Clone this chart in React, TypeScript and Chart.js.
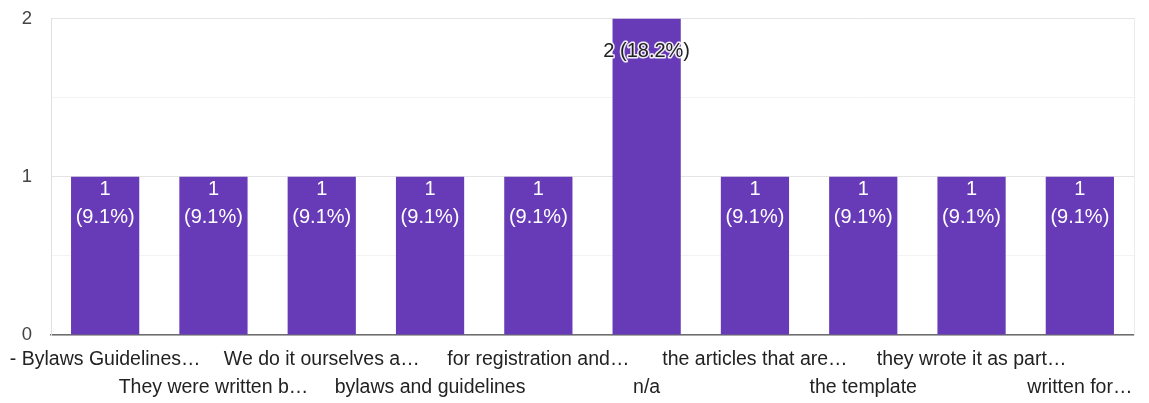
import React, { useEffect, useRef } from "react";
import { Chart, registerables } from "chart.js";

Chart.register(...registerables);

const categories: string[] = [
  "- Bylaws Guidelines…",
  "They were written b…",
  "We do it ourselves a…",
  "bylaws and guidelines",
  "for registration and…",
  "n/a",
  "the articles that are…",
  "the template",
  "they wrote it as part…",
  "written for…",
];

const responses: number[] = [1, 1, 1, 1, 1, 2, 1, 1, 1, 1];

const yTicks: number[] = [0, 1, 2];

const FONT = '"Liberation Sans", Arial, sans-serif';
const BAR_COLOR = "#673ab7";

const barLabelPlugin = {
  id: "barLabels",
  afterDatasetsDraw(chart: any) {
    const ctx: CanvasRenderingContext2D = chart.ctx;
    const meta = chart.getDatasetMeta(0);
    const total = responses.reduce((a, b) => a + b, 0);
    ctx.save();
    ctx.font = `20px ${FONT}`;
    ctx.textAlign = "center";
    ctx.textBaseline = "middle";
    meta.data.forEach((bar: any, i: number) => {
      const v = responses[i];
      const pct = `(${((v / total) * 100).toFixed(1)}%)`;
      const { x, y, width } = bar.getProps(["x", "y", "width"], true);
      const w = ctx.measureText(pct).width;
      if (w + 6 <= width) {
        ctx.fillStyle = "#ffffff";
        ctx.fillText(String(v), x, y + 13);
        ctx.fillText(pct, x, y + 40.5);
      } else {
        const txt = `${v} ${pct}`;
        ctx.lineJoin = "round";
        ctx.lineWidth = 3;
        ctx.strokeStyle = "rgba(255,255,255,0.9)";
        ctx.strokeText(txt, x, y + 33);
        ctx.fillStyle = "#222222";
        ctx.fillText(txt, x, y + 33);
      }
    });
    ctx.restore();
  },
};

export default function App() {
  const canvasRef = useRef<HTMLCanvasElement | null>(null);

  useEffect(() => {
    if (!canvasRef.current) return;
    const tickLabels = categories.map((c, i) => (i % 2 === 0 ? [c, ""] : ["", c]));
    const chart = new Chart(canvasRef.current, {
      type: "bar",
      data: {
        labels: tickLabels,
        datasets: [
          {
            data: responses,
            backgroundColor: BAR_COLOR,
            borderWidth: 0,
            barPercentage: 0.63,
            categoryPercentage: 1,
          },
        ],
      },
      options: {
        animation: false,
        responsive: true,
        maintainAspectRatio: false,
        events: [],
        layout: { padding: { top: 18.5, right: 0, bottom: 0, left: 0 } },
        plugins: {
          legend: { display: false },
          tooltip: { enabled: false },
        },
        scales: {
          x: {
            ticks: {
              autoSkip: false,
              maxRotation: 0,
              minRotation: 0,
              padding: 11,
              color: "#222222",
              font: { size: 19.5, family: FONT, lineHeight: 28 / 19.5 },
            },
            grid: { display: false, drawTicks: false },
            border: { display: true, color: "#6e6e6e", width: 1.5 },
            afterFit: (s: any) => {
              s.height = 68;
              s.paddingLeft = 0;
              s.paddingRight = 0;
            },
          },
          y: {
            min: 0,
            max: 2,
            afterBuildTicks: (s: any) => {
              const t: any[] = [];
              yTicks.forEach((v, i) => {
                t.push({ value: v });
                if (i < yTicks.length - 1) t.push({ value: (v + yTicks[i + 1]) / 2 });
              });
              s.ticks = t;
            },
            ticks: {
              padding: 19,
              color: "#444444",
              font: { size: 18.5, family: FONT },
              callback: (v: any) => (yTicks.includes(Number(v)) ? String(v) : ""),
            },
            grid: {
              drawTicks: false,
              color: (c: any) =>
                c.tick && yTicks.includes(c.tick.value) ? "#e4e4e4" : "#f3f3f3",
            },
            border: { display: true, color: "#e0e0e0" },
            afterFit: (s: any) => {
              s.width = 51;
              s.paddingTop = 0;
              s.paddingBottom = 0;
            },
          },
          yr: {
            position: "right",
            display: true,
            ticks: { display: false },
            grid: { display: false, drawTicks: false },
            border: { display: true, color: "#ececec" },
            afterFit: (s: any) => {
              s.width = 15;
              s.paddingTop = 0;
              s.paddingBottom = 0;
            },
          },
        },
      },
      plugins: [barLabelPlugin],
    } as any);
    return () => chart.destroy();
  }, []);

  return (
    <div style={{ position: "absolute", left: 0, top: 0, width: 1149, height: 403, background: "#fff" }}>
      <canvas ref={canvasRef} />
    </div>
  );
}
